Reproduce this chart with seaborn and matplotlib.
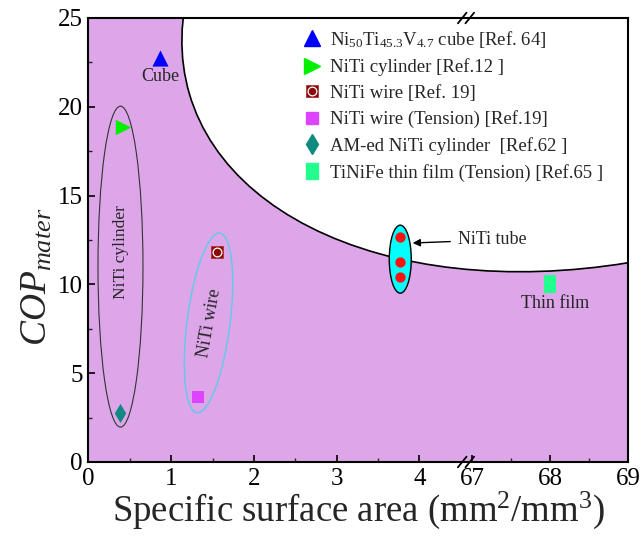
import numpy as np
import pandas as pd
import matplotlib
matplotlib.use('Agg')
import matplotlib.pyplot as plt
import seaborn as sns
from matplotlib.patches import Ellipse
from matplotlib.path import Path
from matplotlib.transforms import Affine2D, ScaledTranslation
from matplotlib.lines import Line2D

# ---------------- data ----------------
cube_x, cube_y = [0.865], [22.75]
cyl_x, cyl_y = [0.42], [18.86]
wire_x, wire_y = [1.55], [11.8]
wire_t_x, wire_t_y = [1.32], [3.66]
am_x, am_y = [0.38], [2.76]
tube_x, tube_y = [3.77, 3.77, 3.77], [12.67, 11.26, 10.42]
film_x, film_y = [68.0], [10.0]

x_ticks = [0, 1, 2, 3, 4, 67, 68, 69]
x_minor = [0.5, 1.5, 2.5, 3.5, 67.5, 68.5]
y_ticks = [0, 5, 10, 15, 20, 25]
y_minor = [2.5, 7.5, 12.5, 17.5, 22.5]

labels = [r'Ni$_{50}$Ti$_{45.3}$V$_{4.7}$ cube [Ref. 64]',
          'NiTi cylinder [Ref.12 ]',
          'NiTi wire [Ref. 19]',
          'NiTi wire (Tension) [Ref.19]',
          'AM-ed NiTi cylinder  [Ref.62 ]',
          'TiNiFe thin film (Tension) [Ref.65 ]']

# ---------------- style ----------------
sns.set_theme(style='ticks')
plt.rcParams['font.family'] = ['Liberation Serif', 'DejaVu Serif']
plt.rcParams['mathtext.fontset'] = 'custom'
plt.rcParams['mathtext.rm'] = 'Liberation Serif'
plt.rcParams['mathtext.it'] = 'Liberation Serif:italic'
plt.rcParams['mathtext.bf'] = 'Liberation Serif:bold'

PURPLE = '#DDA6E9'

fig = plt.figure(figsize=(6.43, 5.37), dpi=100)
ax = fig.add_axes([0.1376, 0.1397, 0.9767 - 0.1376, 0.9665 - 0.1397])
ax.set_facecolor(PURPLE)

# broken x axis through a function scale
BRK_LO, BRK_HI, U_HI, SLOPE = 4.55, 67.0, 4.637, 0.9435


def fwd(x):
    x = np.asarray(x, float)
    return np.where(x <= BRK_LO, x,
                    np.where(x < BRK_HI,
                             BRK_LO + (x - BRK_LO) * (U_HI - BRK_LO) / (BRK_HI - BRK_LO),
                             U_HI + (x - BRK_HI) * SLOPE))


def inv(u):
    u = np.asarray(u, float)
    return np.where(u <= BRK_LO, u,
                    np.where(u < U_HI,
                             BRK_LO + (u - BRK_LO) * (BRK_HI - BRK_LO) / (U_HI - BRK_LO),
                             BRK_HI + (u - U_HI) / SLOPE))


ax.set_xscale('function', functions=(fwd, inv))
ax.set_xlim(0, 69)
ax.set_ylim(0, 25)

# white region (ellipse sized in pixels, centred in axes fraction)
ax.add_patch(Ellipse((0, 0), 583, 927.6, angle=106.43, facecolor='white',
                     edgecolor='black', lw=1.2, zorder=1,
                     transform=Affine2D() + ScaledTranslation(1.0117, 1.1241, ax.transAxes)))

# NiTi cylinder ellipse
ax.add_patch(Ellipse((0.387, 11.0), 0.544, 18.07, facecolor='none', edgecolor='#333333',
                     lw=0.8, zorder=2))
# NiTi wire ellipse (defined in pixels around its data center)
ax.add_patch(Ellipse((0, 0), 43, 181, angle=-7.3, facecolor='none', edgecolor='#5CCBEA',
                     lw=1.0, zorder=2,
                     transform=Affine2D() + ScaledTranslation(1.451, 7.83, ax.transData)))
# NiTi tube ellipse
ax.add_patch(Ellipse((3.77, 11.42), 0.266, 3.83, facecolor='#00FFFF', edgecolor='black',
                     lw=1.0, zorder=3))

# ---------------- markers ----------------
rect_marker = Path([(-0.65, -1), (0.65, -1), (0.65, 1), (-0.65, 1), (-0.65, -1)],
                   [Path.MOVETO, Path.LINETO, Path.LINETO, Path.LINETO, Path.CLOSEPOLY])

sns.scatterplot(x=cube_x, y=cube_y, marker='^', s=135, color='#0000FF', linewidth=0, ax=ax, zorder=5)
sns.scatterplot(x=cyl_x, y=cyl_y, marker='>', s=125, color='#00F000', linewidth=0, ax=ax, zorder=5)
sns.scatterplot(x=wire_x, y=wire_y, marker='s', s=85, color='#8B0A0A', linewidth=0.6,
                edgecolor='#B03030', ax=ax, zorder=5)
ax.plot(wire_x, wire_y, ls='', marker='o', ms=6.3, mfc='none', mec='white', mew=0.9, zorder=6)
sns.scatterplot(x=wire_t_x, y=wire_t_y, marker='s', s=68, color='#DD44FF', linewidth=0, ax=ax, zorder=5)
sns.scatterplot(x=am_x, y=am_y, marker='d', s=95, color='#0E8A80', linewidth=0, ax=ax, zorder=5)
sns.scatterplot(x=tube_x, y=tube_y, marker='o', s=55, color='#FF1010', linewidth=0, ax=ax, zorder=5)
sns.scatterplot(x=film_x, y=film_y, marker=rect_marker, s=150, color='#22FF8C', linewidth=0, ax=ax, zorder=5)

# ---------------- annotations ----------------
ax.text(0.865, 21.7, 'Cube', ha='center', va='center', fontsize=13, zorder=6)
ax.text(68.07, 8.9, 'Thin film', ha='center', va='center', fontsize=13, zorder=6)
ax.text(0.39, 11.8, 'NiTi cylinder', rotation=90, ha='center', va='center', fontsize=12.5, zorder=6)
ax.text(1.46, 7.8, 'NiTi wire', rotation=80, ha='center', va='center', fontsize=13, zorder=6)
ax.annotate('NiTi tube', xy=(3.92, 12.33), xytext=(4.465, 12.5), ha='left', va='center',
            fontsize=13, zorder=6,
            arrowprops=dict(arrowstyle='-|>', color='black', lw=1.0, mutation_scale=11,
                            shrinkA=3, shrinkB=0))

# ---------------- legend ----------------
h = [Line2D([], [], ls='', marker='^', ms=11.5, color='#0000FF'),
     Line2D([], [], ls='', marker='>', ms=11, color='#00F000'),
     (Line2D([], [], ls='', marker='s', ms=9.2, color='#8B0A0A', mec='#B03030', mew=0.6),
      Line2D([], [], ls='', marker='o', ms=6.3, mfc='none', mec='white', mew=0.9)),
     Line2D([], [], ls='', marker='s', ms=8.2, color='#DD44FF'),
     Line2D([], [], ls='', marker='d', ms=9.7, color='#0E8A80'),
     Line2D([], [], ls='', marker=rect_marker, ms=12.2, color='#22FF8C')]
ax.legend(h, labels, loc='upper left', bbox_to_anchor=(0.397, 0.976), frameon=False,
          fontsize=13.5, handlelength=1.0, handletextpad=0.45, labelspacing=0.46,
          borderpad=0, borderaxespad=0, numpoints=1)

# ---------------- axes ----------------
ax.set_xticks(x_ticks)
ax.set_xticklabels([str(t) for t in x_ticks])
ax.set_xticks(x_minor, minor=True)
ax.set_yticks(y_ticks)
ax.set_yticklabels([str(t) for t in y_ticks])
ax.set_yticks(y_minor, minor=True)
ax.tick_params(axis='both', which='major', direction='in', length=5, width=1.2,
               labelsize=18, colors='black', pad=4)
ax.tick_params(axis='both', which='minor', direction='in', length=3, width=1.0)
for s in ax.spines.values():
    s.set_linewidth(1.5)
    s.set_color('black')
    s.set_zorder(10)

ax.set_xlabel(r'Specific surface area (mm$^2$/mm$^3$)', fontsize=26.5, labelpad=0)
ax.set_ylabel(r'$COP_{mater}$', fontsize=27)
ax.yaxis.set_label_coords(-0.062, 0.417)

# axis-break marks
bx = (466 - 88.5) / 539.5
for yb in (0, 1):
    for dx in (-0.007, 0.007):
        ax.plot([bx + dx - 0.008, bx + dx + 0.008], [yb - 0.012, yb + 0.012],
                transform=ax.transAxes, color='black', lw=1.3, clip_on=False, zorder=11)

fig.savefig('out.png', dpi=100)
